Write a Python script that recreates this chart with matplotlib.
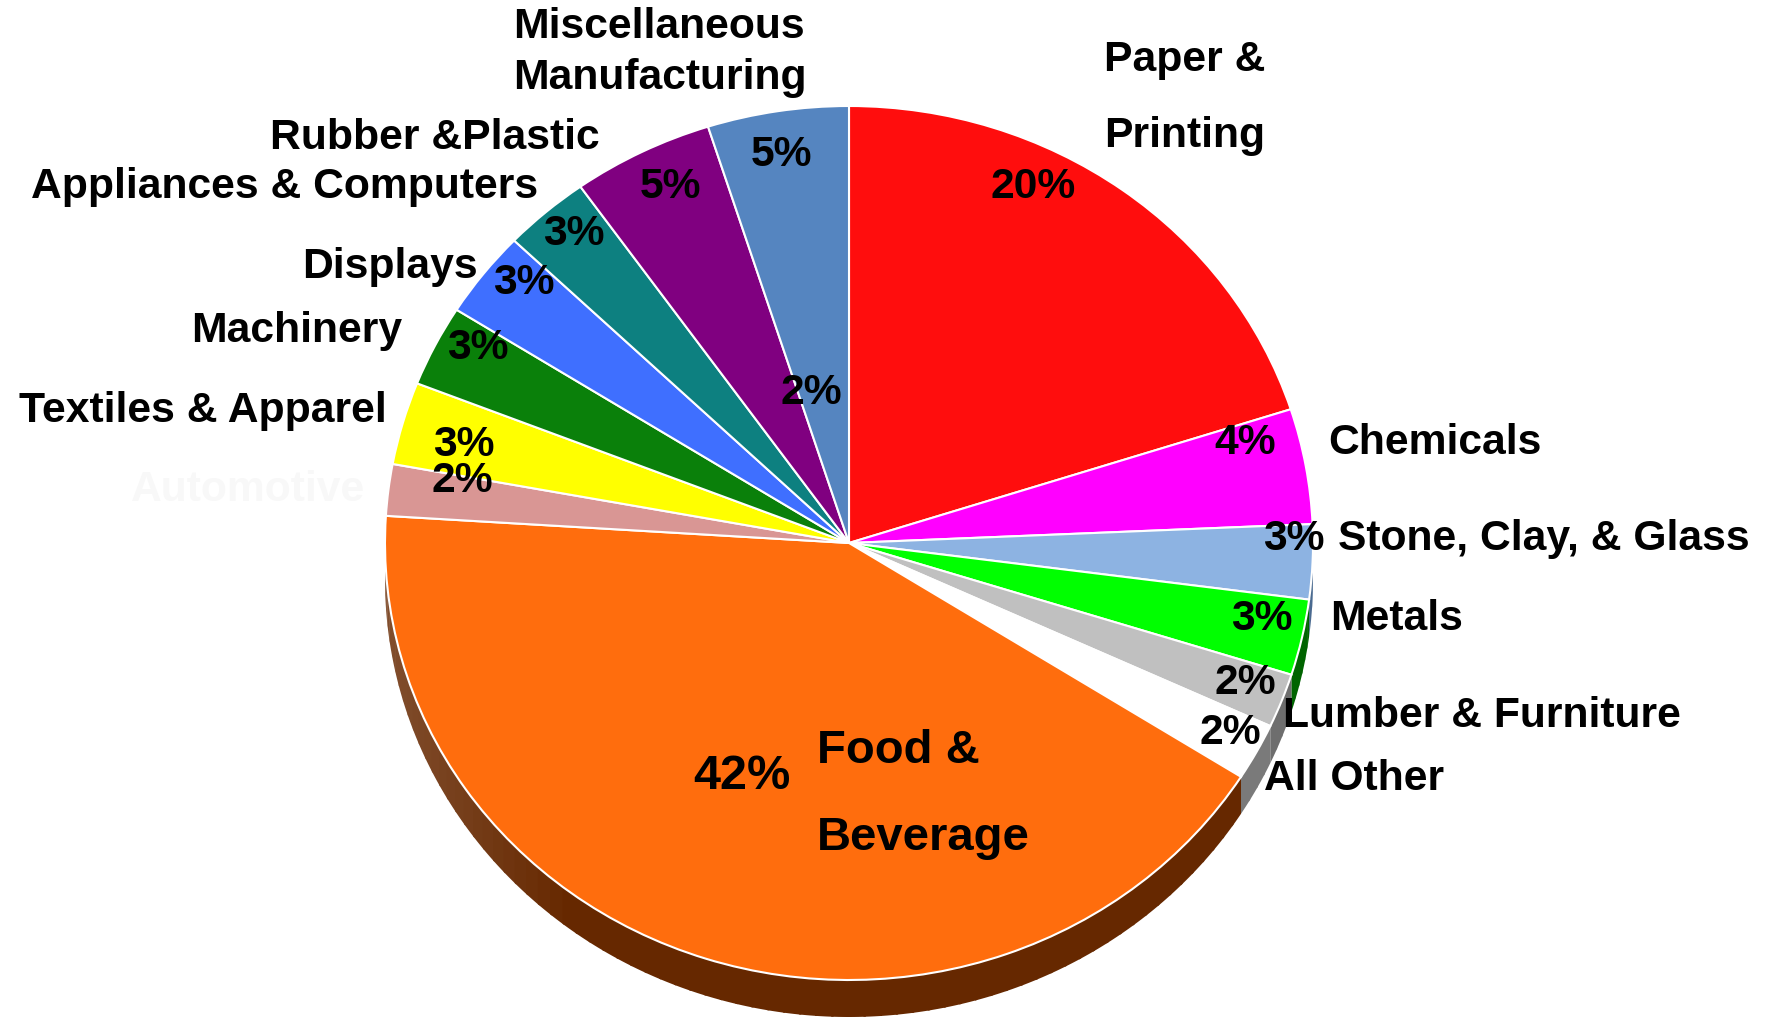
import numpy as np
import matplotlib
matplotlib.use("Agg")
import matplotlib.pyplot as plt
from matplotlib.patches import Polygon
from matplotlib.colors import to_rgb

# ---------------- data ----------------
sectors = ["Paper & Printing", "Chemicals", "Stone, Clay, & Glass", "Metals",
           "Lumber & Furniture", "All Other", "Food & Beverage", "Automotive",
           "Textiles & Apparel", "Machinery", "Displays", "Appliances & Computers",
           "Rubber &Plastic", "Miscellaneous Manufacturing"]
shares = [20.0, 4.25, 2.75, 2.8, 2.0, 2.1, 41.9, 1.9, 3.05, 3.0, 3.2, 3.0, 4.9, 4.9]
pct_labels = ["20%", "4%", "3%", "3%", "2%", "2%", "42%", "2%", "3%", "3%",
              "3%", "3%", "5%", "5%"]
colors = ['#FF0D0D', '#FF00FF', '#8DB3E2', '#00FF00', '#C0C0C0', '#FFFFFF',
          '#FF6D0D', '#D99694', '#FFFF00', '#0A800A', '#3F6FFF', '#0D8080',
          '#800080', '#5585C0']
side_colors = ['#800000', '#800080', '#4A6A90', '#006400', '#6E6E6E', '#7A7A7A',
               '#662800', '#8A5050', '#808000', '#054005', '#20388A', '#064040',
               '#400040', '#2A4260']

# ---------------- layout ----------------
W, H = 1775, 1018
CX, CY = 849, 543     # pie centre in pixels (from top-left)
RX, RY = 464, 437     # ellipse radii in pixels
DEPTH = 37            # 3-D thickness in pixels

plt.rcParams['font.family'] = ['Liberation Sans', 'DejaVu Sans']
fig = plt.figure(figsize=(W / 100, H / 100), dpi=100)
ax = fig.add_axes([0, 0, 1, 1])

ax.pie(shares, colors=colors, startangle=90, counterclock=False, radius=1,
       center=(0, 0), wedgeprops=dict(edgecolor='white', linewidth=1.5))
ax.set_aspect('auto')
ax.set_xlim(-CX / RX, (W - CX) / RX)
ax.set_ylim(-(H - CY) / RY, CY / RY)
ax.axis('off')

# ---------------- side walls ----------------
fr = np.array(shares) / np.sum(shares)
edges = 90 - 360 * np.concatenate([[0], np.cumsum(fr)])
d = DEPTH / RY
for i in range(len(shares)):
    a1, a2 = edges[i + 1], edges[i]
    for shift in (0, -360, 360):
        lo = max(a1 + shift, -180)
        hi = min(a2 + shift, 0)
        if hi <= lo:
            continue
        steps = np.linspace(lo, hi, max(3, int((hi - lo) / 2) + 2))
        base = np.array(to_rgb(side_colors[i]))
        for s0, s1 in zip(steps[:-1], steps[1:]):
            t = np.radians(np.linspace(s0, s1 + 0.3 * (s1 < hi), 6))
            x, y = np.cos(t), np.sin(t)
            poly = np.column_stack([np.r_[x, x[::-1]], np.r_[y, y[::-1] - d]])
            tm = np.radians((s0 + s1) / 2)
            light = 0.35 * max(0.0, (-np.cos(tm) - 0.6) / 0.4)
            col = np.clip(base + (1 - base) * light * 0.5, 0, 1)
            ax.add_patch(Polygon(poly, closed=True, fc=col, ec='none', zorder=0.5))

# ---------------- text ----------------
def P(x, y):
    fx = x * W / 1568
    fy = y * H / 899
    return (fx - CX) / RX, (CY - fy) / RY

FS = 30.7
texts = [
    ("Paper &", 975, 53, 'left', FS), ("Printing", 975, 120, 'left', FS),
    ("Chemicals", 1173, 391, 'left', FS),
    ("Stone, Clay, & Glass", 1182, 476, 'left', FS),
    ("Metals", 1175, 547, 'left', FS),
    ("Lumber & Furniture", 1133, 632, 'left', FS),
    ("All Other", 1117, 688, 'left', FS),
    ("Food &", 722, 663, 'left', 34), ("Beverage", 722, 740, 'left', 34),
    ("Textiles & Apparel", 342, 363, 'right', FS),
    ("Machinery", 355, 292, 'right', FS),
    ("Displays", 422, 236, 'right', FS),
    ("Appliances & Computers", 475, 165, 'right', FS),
    ("Rubber &Plastic", 530, 122, 'right', FS),
    ("Miscellaneous", 453, 24, 'left', FS), ("Manufacturing", 453, 69, 'left', FS),
]
for s, x, y, ha, fs in texts:
    ax.text(*P(x, y), s, ha=ha, va='center', fontsize=fs, fontweight='bold',
            color='black', zorder=5)

# nearly invisible Automotive label
ax.text(*P(116, 433), "Automotive", ha='left', va='center', fontsize=FS,
        fontweight='bold', color='#F8F8F8', zorder=5)

pct_pos = [(913, 165), (1100, 391), (1143, 476), (1115, 547), (1100, 603),
           (1087, 647), (655, 686), (408, 425), (410, 393), (422, 307),
           (463, 250), (507, 207), (592, 165), (690, 137)]
for lab, (x, y), s in zip(pct_labels, pct_pos, sectors):
    fs = 35 if s == "Food & Beverage" else FS
    ax.text(*P(x, y), lab, ha='center', va='center', fontsize=fs,
            fontweight='bold', color='black', zorder=5)

# stray label near the centre
ax.text(*P(717, 347), "2%", ha='center', va='center', fontsize=FS,
        fontweight='bold', color='black', zorder=5)

fig.savefig("out.png", dpi=100, facecolor='white')
